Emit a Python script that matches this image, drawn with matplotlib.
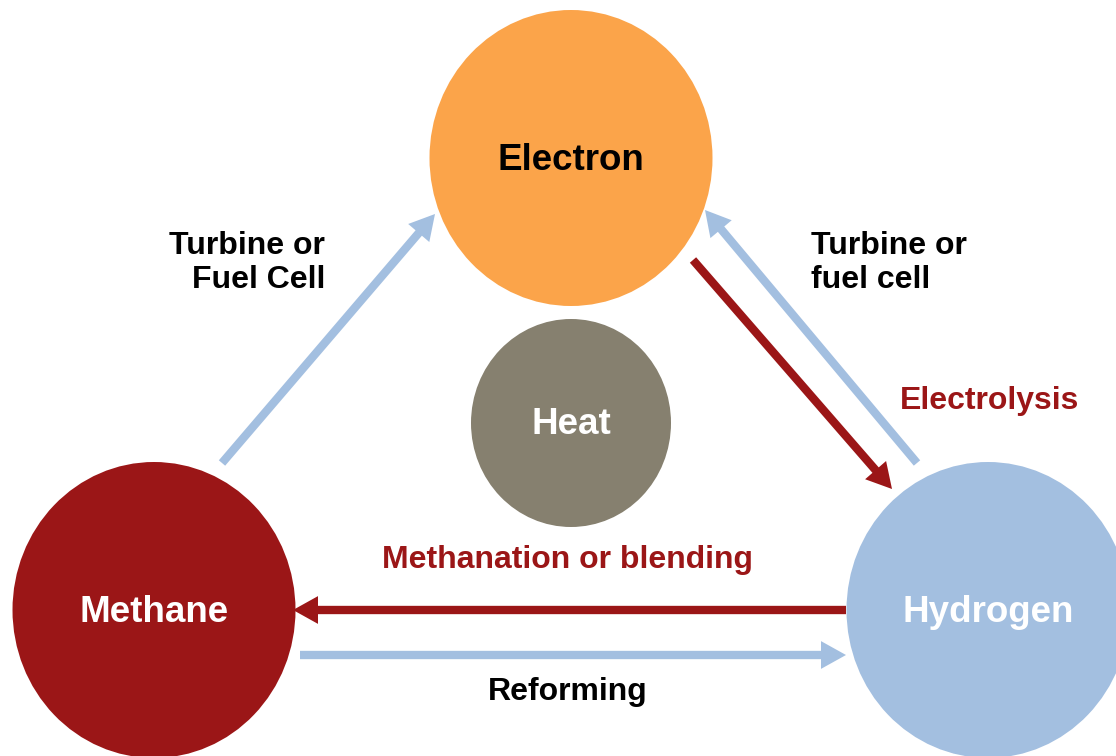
import matplotlib.pyplot as plt
from matplotlib.patches import Ellipse, FancyArrowPatch, ArrowStyle

plt.rcParams['font.family'] = ['Liberation Sans', 'DejaVu Sans']

# Nodes of the energy-carrier diagram
node_names = ['Electron', 'Heat', 'Methane', 'Hydrogen']
node_colors = ['#FBA44A', '#86806F', '#9B1617', '#A3BFE0']
node_text_colors = ['black', 'white', 'white', 'white']

# Conversions between carriers
flow_from = ['Methane', 'Electron', 'Hydrogen', 'Hydrogen', 'Methane']
flow_to = ['Electron', 'Hydrogen', 'Electron', 'Methane', 'Hydrogen']
flow_colors = ['#A3BFE0', '#9B1617', '#A3BFE0', '#9B1617', '#A3BFE0']

labels = ['Turbine or\nFuel Cell', 'Turbine or\nfuel cell', 'Electrolysis',
          'Methanation or blending', 'Reforming']
label_colors = ['black', 'black', '#9B1617', '#9B1617', 'black']

# layout in pixel space (y grows downward)
node_xy = {'Electron': (571, 158), 'Heat': (571, 423),
           'Methane': (154, 610), 'Hydrogen': (988, 610)}
node_size = {'Electron': (283, 296), 'Heat': (200, 208),
             'Methane': (283, 296), 'Hydrogen': (283, 296)}
flow_ends = [((222, 463), (435, 214)),
             ((693, 260), (892, 489)),
             ((917, 463), (705, 210)),
             ((846, 610), (293, 610)),
             ((300, 655), (846, 655))]
label_xy = [(325, 263), (811, 263), (900, 401), (568, 560), (568, 692)]
label_ha = ['right', 'left', 'left', 'center', 'center']

fig = plt.figure(figsize=(11.16, 7.56), dpi=100)
ax = fig.add_axes([0, 0, 1, 1])
ax.set_xlim(0, 1116)
ax.set_ylim(756, 0)
ax.axis('off')

for name, col, tcol in zip(node_names, node_colors, node_text_colors):
    w, h = node_size[name]
    x, y = node_xy[name]
    ax.add_patch(Ellipse((x, y), w, h, facecolor=col, edgecolor='none'))
    ax.text(x, y + 2, name, ha='center', va='center', fontsize=26.5,
            fontweight='bold', color=tcol)

style = ArrowStyle.Simple(head_length=18, head_width=20, tail_width=6)
for (a, b), col in zip(flow_ends, flow_colors):
    ax.add_patch(FancyArrowPatch(a, b, arrowstyle=style, mutation_scale=1,
                                 shrinkA=0, shrinkB=0, color=col, lw=0))

for txt, col, xy, ha in zip(labels, label_colors, label_xy, label_ha):
    ax.text(*xy, txt, ha=ha, va='center', fontsize=23, fontweight='bold',
            color=col, linespacing=1.15)

fig.savefig('out.png', dpi=100)
